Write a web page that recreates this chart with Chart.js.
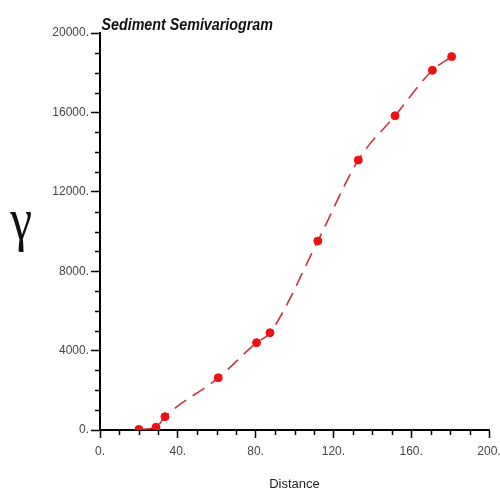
<!DOCTYPE html>
<html><head><meta charset="utf-8">
<script src="https://cdn.jsdelivr.net/npm/chart.js@4/dist/chart.umd.min.js"></script>
<style>html,body{margin:0;padding:0;background:#fff}#wrap{width:500px;height:492px}</style>
</head><body><div id="wrap"><canvas id="c" width="500" height="492"></canvas></div>
<script>
const distance = [20.0, 28.8, 33.4, 60.8, 80.5, 87.4, 112.0, 132.8, 151.7, 170.9, 180.8];
const gamma = [30, 140, 670, 2630, 4400, 4900, 9520, 13600, 15830, 18120, 18810];
const titleText = 'Sediment Semivariogram';
const xTitle = 'Distance';
const yTitle = 'γ';

const minorTicks = {
  id: 'minorTicks',
  afterDraw(chart) {
    const ctx = chart.ctx, x = chart.scales.x, y = chart.scales.y;
    const a = chart.chartArea;
    ctx.save();
    ctx.strokeStyle = '#000'; ctx.lineWidth = 1.5;
    for (let v = 0; v <= 20000; v += 1000) {
      if (v % 4000 === 0) continue;
      const p = Math.round(y.getPixelForValue(v)) + 0.5;
      ctx.beginPath(); ctx.moveTo(a.left - 5, p); ctx.lineTo(a.left, p); ctx.stroke();
    }
    for (let v = 0; v <= 200; v += 10) {
      if (v % 40 === 0) continue;
      const p = Math.round(x.getPixelForValue(v)) + 0.5;
      ctx.beginPath(); ctx.moveTo(p, a.bottom); ctx.lineTo(p, a.bottom + 5); ctx.stroke();
    }
    ctx.fillStyle = '#111';
    ctx.save();
    ctx.translate(a.left + 1.5, 30);
    ctx.scale(0.84, 1);
    ctx.font = 'italic bold 17px "Liberation Sans", Arial, sans-serif';
    ctx.textBaseline = 'alphabetic'; ctx.textAlign = 'left';
    ctx.fillText(titleText, 0, 0);
    ctx.restore();
    ctx.save();
    ctx.translate(21, 223);
    ctx.scale(0.82, 1);
    ctx.font = '60px "Liberation Serif", "DejaVu Serif", serif';
    ctx.textAlign = 'center'; ctx.textBaseline = 'middle';
    ctx.fillText(yTitle, 0, 0);
    ctx.restore();
    ctx.restore();
  }
};

new Chart(document.getElementById('c'), {
  type: 'scatter',
  data: {
    datasets: [{
      data: distance.map((d, i) => ({x: d, y: gamma[i]})),
      showLine: true,
      borderColor: '#c8343a',
      borderWidth: 1.6,
      borderDash: [14, 8],
      cubicInterpolationMode: 'monotone',
      pointRadius: 4,
      pointBackgroundColor: '#ee1111',
      pointBorderColor: '#ee1111',
      pointBorderWidth: 1
    }]
  },
  options: {
    responsive: false,
    animation: false,
    events: [],
    layout: { padding: { left: 0, right: 0, top: 33, bottom: 0 } },
    plugins: { legend: { display: false }, tooltip: { enabled: false }, title: { display: false } },
    scales: {
      x: {
        type: 'linear', min: 0, max: 200,
        afterFit(s) { s.height = 62; s.paddingRight = 11; },
        border: { color: '#000', width: 2 },
        grid: { drawOnChartArea: false, tickLength: 8, color: '#000', tickWidth: 1.5 },
        ticks: { stepSize: 40, padding: 6, color: '#444',
          font: { family: '"Liberation Sans", Arial, sans-serif', size: 12 },
          callback: v => v + '.' },
        title: { display: true, text: xTitle, color: '#222', padding: { top: 0, bottom: 0 },
          font: { family: '"Liberation Sans", Arial, sans-serif', size: 13 } }
      },
      y: {
        type: 'linear', min: 0, max: 20000,
        afterFit(s) { s.width = 100; },
        border: { color: '#000', width: 2 },
        grid: { drawOnChartArea: false, tickLength: 9, color: '#000', tickWidth: 1.5 },
        ticks: { stepSize: 4000, padding: 2, color: '#444',
          font: { family: '"Liberation Sans", Arial, sans-serif', size: 12 },
          callback: v => v + '.' }
      }
    }
  },
  plugins: [minorTicks]
});
</script></body></html>
